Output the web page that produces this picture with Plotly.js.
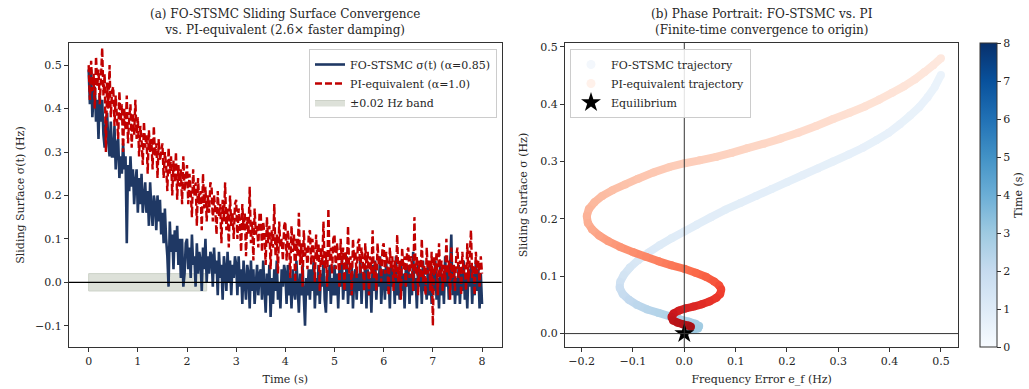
<!DOCTYPE html>
<html>
<head>
<meta charset="utf-8">
<script src="https://cdn.plot.ly/plotly-3.0.1.min.js"></script>
<style>html,body{margin:0;padding:0;background:#fff;}#chart{width:1029px;height:389px;}</style>
</head>
<body>
<div id="chart"></div>
<script>
// ---------- Panel (a): time series, sampled every 0.025 s from t = 0 to 8 s ----------
const timeStart = 0;
const timeStep = 0.025;

const sigmaFO = [
0.49,0.41,0.49,0.38,0.43,0.45,0.37,0.42,0.33,0.43,0.37,0.42,0.34,0.31,0.37,0.39,0.32,0.29,0.37,0.29,
0.29,0.36,0.26,0.32,0.33,0.24,0.29,0.25,0.32,0.26,0.29,0.09,0.27,0.21,0.29,0.22,0.26,0.18,0.23,0.26,
0.16,0.24,0.18,0.25,0.16,0.21,0.23,0.16,0.21,0.13,0.23,0.17,0.13,0.20,0.18,0.12,0.20,0.14,0.19,0.11,
0.16,0.09,0.17,0.10,0.06,-0.01,0.14,0.07,0.11,0.03,0.12,0.07,0.13,0.04,0.10,0.01,0.10,-0.01,0.02,0.09,
0.10,0.03,0.08,0.01,0.11,0.04,0.06,-0.01,0.09,0.02,0.07,0.05,-0.02,0.08,0.03,0.10,0.00,0.06,0.02,0.07,
0.06,-0.01,0.08,0.02,0.05,-0.03,0.07,0.01,0.04,-0.04,0.06,0.03,-0.02,0.07,0.00,0.05,-0.03,0.04,0.01,0.06,
0.04,-0.03,0.06,-0.01,0.03,-0.05,0.05,0.00,-0.04,0.04,0.02,-0.06,0.05,-0.02,0.03,-0.05,0.01,0.04,-0.03,0.02,
0.03,-0.04,0.05,-0.02,-0.07,0.02,-0.03,0.04,-0.08,0.01,-0.05,0.03,-0.02,0.05,-0.04,0.00,-0.06,0.03,-0.01,0.04,
0.02,-0.05,0.04,-0.03,0.01,-0.06,0.03,-0.02,-0.04,0.05,-0.01,-0.07,0.02,-0.03,0.04,-0.05,-0.10,0.01,-0.03,0.03,
-0.04,0.03,-0.02,0.05,-0.06,0.01,-0.03,0.04,-0.05,0.02,-0.01,0.05,-0.04,-0.07,0.02,-0.02,0.04,-0.05,0.01,-0.03,
0.04,-0.03,0.02,-0.06,0.03,-0.01,0.05,-0.04,0.01,-0.02,0.06,-0.05,0.02,-0.03,0.04,-0.06,0.01,0.03,-0.04,0.02,
-0.02,0.05,-0.05,0.02,-0.01,0.04,-0.06,0.03,-0.03,0.01,-0.07,0.04,-0.02,0.05,-0.04,0.02,-0.01,0.06,-0.05,0.01,
0.03,-0.04,0.05,-0.02,0.02,-0.06,0.04,-0.01,0.03,-0.05,0.06,-0.03,0.01,-0.04,0.05,-0.02,0.02,-0.06,0.03,-0.01,
0.04,-0.05,0.02,-0.03,0.07,-0.02,0.01,-0.06,0.04,-0.01,0.03,-0.05,0.05,-0.02,0.00,-0.04,0.04,-0.03,0.02,-0.05,
0.03,-0.02,0.05,-0.04,0.01,-0.06,0.04,-0.03,0.02,-0.05,0.06,-0.01,0.03,-0.04,0.02,0.11,-0.03,0.04,-0.05,0.01,
-0.03,0.04,-0.05,0.02,-0.02,0.05,-0.04,0.01,-0.06,0.03,-0.01,0.04,-0.05,0.02,-0.03,0.05,-0.02,0.03,-0.06,0.02,
-0.05];

const sigmaPI = [
0.50,0.42,0.51,0.44,0.48,0.40,0.52,0.45,0.49,0.41,0.47,0.54,0.43,0.48,0.30,0.46,0.40,0.50,0.38,0.44,
0.45,0.36,0.43,0.39,0.33,0.44,0.37,0.41,0.30,0.40,0.35,0.43,0.32,0.38,0.41,0.31,0.39,0.34,0.42,0.33,
0.38,0.29,0.36,0.33,0.27,0.37,0.31,0.34,0.25,0.35,0.30,0.33,0.26,0.36,0.29,0.32,0.24,0.33,0.28,0.30,
0.32,0.24,0.30,0.27,0.21,0.31,0.25,0.29,0.20,0.28,0.23,0.30,0.19,0.27,0.22,0.26,0.18,0.29,0.21,0.24,
0.27,0.18,0.25,0.21,0.15,0.26,0.20,0.23,0.13,0.24,0.18,0.21,0.12,0.25,0.17,0.22,0.14,0.20,0.16,0.23,
0.22,0.14,0.20,0.17,0.11,0.21,0.15,0.18,0.09,0.19,0.14,0.23,0.12,0.17,0.08,0.20,0.13,0.16,0.10,0.18,
0.19,0.10,0.17,0.14,0.07,0.18,0.12,0.16,0.06,0.15,0.11,0.22,0.09,0.14,0.05,0.17,0.11,0.13,0.08,0.16,
0.16,0.07,0.14,0.11,0.04,0.15,0.09,0.13,0.03,0.12,0.08,0.18,0.06,0.11,0.02,0.14,0.08,0.10,0.05,0.13,
0.14,0.05,0.12,0.09,0.01,0.13,0.07,0.11,0.00,0.10,0.06,0.16,0.04,0.09,-0.01,0.12,0.06,0.08,0.03,0.11,
0.12,0.04,0.10,0.07,0.00,0.11,0.05,0.09,-0.02,0.08,0.04,0.14,0.03,0.07,-0.01,0.17,0.05,0.08,0.02,0.10,
0.11,0.03,0.09,0.06,-0.01,0.10,0.04,0.08,-0.02,0.07,0.03,0.13,0.02,0.06,-0.03,0.10,0.05,0.07,0.01,0.09,
0.10,0.02,0.08,0.05,-0.02,0.09,0.03,0.07,-0.03,0.06,0.02,0.12,0.01,0.05,-0.02,0.09,0.04,0.06,0.00,0.08,
0.09,0.02,0.07,0.04,-0.03,0.08,0.03,0.06,-0.02,0.05,0.01,0.11,0.00,0.05,-0.04,0.08,0.03,0.06,-0.01,0.07,
0.08,0.01,0.06,0.04,-0.02,0.15,0.02,0.06,-0.03,0.05,0.01,0.10,0.00,0.04,-0.03,0.08,0.02,0.05,-0.02,0.07,
-0.10,0.06,0.02,0.07,-0.03,0.09,0.01,0.05,-0.02,0.04,0.00,0.10,0.02,0.05,-0.04,0.08,0.01,0.04,-0.02,0.06,
0.08,0.01,0.05,-0.03,0.07,0.02,0.04,-0.02,0.09,0.00,0.05,0.12,0.01,0.04,-0.03,0.07,0.02,0.05,-0.01,0.06,
0.02];

const bandTime = [0, 2.4];
const bandLimits = [-0.02, 0.02];

const xTicksA = [0,1,2,3,4,5,6,7,8];
const yTicksA = [-0.1,0,0.1,0.2,0.3,0.4,0.5];

// ---------- Panel (b): phase portrait ----------
const foE = [0.500,0.488,0.474,0.458,0.440,0.420,0.398,0.374,0.348,0.320,
0.290,0.260,0.230,0.200,0.170,0.140,0.110,0.080,0.052,0.025,
0.000,-0.025,-0.048,-0.070,-0.090,-0.106,-0.118,-0.125,-0.126,-0.120,
-0.108,-0.092,-0.072,-0.050,-0.028,-0.010,0.008,0.022,0.029,0.027,
0.018,0.008];
const foSigma = [0.451,0.430,0.412,0.395,0.380,0.365,0.350,0.337,0.324,0.312,
0.300,0.288,0.276,0.264,0.252,0.240,0.228,0.216,0.203,0.190,
0.178,0.166,0.154,0.141,0.128,0.115,0.102,0.090,0.080,0.069,
0.059,0.050,0.042,0.036,0.030,0.025,0.021,0.017,0.013,0.009,
0.007,0.006];
const foTime = [0.50,0.52,0.54,0.56,0.58,0.60,0.62,0.64,0.66,0.68,
0.70,0.72,0.74,0.76,0.78,0.80,0.82,0.84,0.86,0.88,
0.90,0.96,1.02,1.10,1.20,1.32,1.46,1.62,1.80,1.96,
2.10,2.22,2.34,2.44,2.54,2.64,2.72,2.80,2.88,2.94,
3.00,3.05];

const piE = [0.500,0.485,0.468,0.449,0.428,0.405,0.380,0.352,0.322,0.290,
0.257,0.222,0.188,0.155,0.122,0.092,0.062,0.030,0.001,-0.030,
-0.060,-0.090,-0.115,-0.140,-0.160,-0.175,-0.186,-0.190,-0.188,-0.180,
-0.166,-0.148,-0.125,-0.100,-0.075,-0.050,-0.025,0.000,0.022,0.042,
0.058,0.068,0.072,0.070,0.062,0.049,0.034,0.018,0.003,-0.011,
-0.021,-0.025,-0.022,-0.013,-0.002,0.008,0.013];
const piSigma = [0.480,0.468,0.456,0.443,0.431,0.420,0.408,0.396,0.385,0.374,
0.362,0.350,0.340,0.331,0.323,0.315,0.308,0.302,0.297,0.290,
0.281,0.270,0.260,0.250,0.240,0.229,0.217,0.205,0.193,0.182,
0.171,0.161,0.151,0.142,0.134,0.126,0.119,0.113,0.106,0.099,
0.091,0.084,0.077,0.069,0.062,0.056,0.051,0.047,0.044,0.040,
0.035,0.029,0.023,0.019,0.016,0.014,0.012];
const piTime = [0.60,0.65,0.70,0.75,0.80,0.85,0.90,0.95,1.00,1.05,
1.10,1.15,1.20,1.25,1.30,1.35,1.40,1.45,1.50,1.58,
1.66,1.74,1.82,1.90,1.98,2.06,2.14,2.22,2.32,2.44,
2.58,2.74,2.92,3.10,3.28,3.46,3.64,3.82,4.02,4.22,
4.42,4.62,4.82,4.98,5.14,5.28,5.42,5.56,5.70,5.86,
6.02,6.18,6.34,6.50,6.66,6.82,6.96];

const equilibrium = {e: [0], sigma: [0]};
const colorbarTicks = [0,1,2,3,4,5,6,7,8];

// ---------- styling ----------
const BLUES = [[0,'#f7fbff'],[0.125,'#deebf7'],[0.25,'#c6dbef'],[0.375,'#9ecae1'],[0.5,'#6baed6'],[0.625,'#4292c6'],[0.75,'#2171b5'],[0.875,'#08519c'],[1,'#08306b']];
const REDS = [[0,'#fff5f0'],[0.125,'#fee0d2'],[0.25,'#fcbba1'],[0.375,'#fc9272'],[0.5,'#fb6a4a'],[0.625,'#ef3b2c'],[0.75,'#cb181d'],[0.875,'#a50f15'],[1,'#67000d']];
const CMIN = 0, CMAX = 8;

function hexRgb(h){return [parseInt(h.substr(1,2),16),parseInt(h.substr(3,2),16),parseInt(h.substr(5,2),16)];}
function scaleColor(scale, v){
  let f = (v-CMIN)/(CMAX-CMIN); f = Math.max(0,Math.min(1,f));
  for (let i=0;i<scale.length-1;i++){
    const a=scale[i], b=scale[i+1];
    if (f>=a[0] && f<=b[0]){
      const u=(f-a[0])/(b[0]-a[0]); const ca=hexRgb(a[1]), cb=hexRgb(b[1]);
      return 'rgb('+ca.map((c,k)=>Math.round(c+(cb[k]-c)*u)).join(',')+')';
    }
  }
  return scale[scale.length-1][1];
}

const W=1029, H=389;
const FONT = 'DejaVu Serif, serif';
const TXT = '#262626';
const AX = '#333333';
const yDom = [(H-347)/H, (H-43)/H];

const traces = [];
traces.push({type:'scatter', x:[bandTime[0],bandTime[1],bandTime[1],bandTime[0],bandTime[0]],
  y:[bandLimits[0],bandLimits[0],bandLimits[1],bandLimits[1],bandLimits[0]],
  mode:'lines', fill:'toself', fillcolor:'rgb(221,225,217)', line:{color:'rgb(205,210,200)', width:1},
  name:'±0.02 Hz band', legend:'legend', legendrank:3, hoverinfo:'skip', xaxis:'x', yaxis:'y'});
traces.push({type:'scatter', x0:timeStart, dx:timeStep, y:sigmaFO, mode:'lines',
  line:{color:'#1f3864', width:2.6}, name:'FO-STSMC σ(t) (α=0.85)', legend:'legend', legendrank:1,
  xaxis:'x', yaxis:'y', hoverinfo:'skip'});
traces.push({type:'scatter', x0:timeStart, dx:timeStep, y:sigmaPI, mode:'lines',
  line:{color:'#c00000', width:2.4, dash:'7px,3px'}, name:'PI-equivalent (α=1.0)', legend:'legend', legendrank:2,
  xaxis:'x', yaxis:'y', hoverinfo:'skip'});

for (let i=0;i<foE.length-1;i++){
  traces.push({type:'scatter', x:[foE[i],foE[i+1]], y:[foSigma[i],foSigma[i+1]], mode:'lines',
    line:{color:scaleColor(BLUES,(foTime[i]+foTime[i+1])/2), width:8}, showlegend:false, hoverinfo:'skip', xaxis:'x2', yaxis:'y2'});
}
traces.push({type:'scatter', x:foE, y:foSigma, mode:'markers', showlegend:false, hoverinfo:'skip', xaxis:'x2', yaxis:'y2',
  marker:{size:8, color:foTime, colorscale:BLUES, cmin:CMIN, cmax:CMAX, showscale:true,
    colorbar:{x:980/W, xanchor:'left', xpad:0, ypad:0, y:(H-347)/H, yanchor:'bottom', len:(347-43)/H, lenmode:'fraction',
      thickness:17, thicknessmode:'pixels', outlinewidth:1, outlinecolor:AX,
      tickvals:colorbarTicks, ticks:'outside', ticklen:4, tickcolor:AX, tickfont:{family:FONT,size:11,color:TXT},
      title:{text:'Time (s)', side:'right', font:{family:FONT,size:11,color:TXT}}}}});
for (let i=0;i<piE.length-1;i++){
  traces.push({type:'scatter', x:[piE[i],piE[i+1]], y:[piSigma[i],piSigma[i+1]], mode:'lines',
    line:{color:scaleColor(REDS,(piTime[i]+piTime[i+1])/2), width:8}, showlegend:false, hoverinfo:'skip', xaxis:'x2', yaxis:'y2'});
}
traces.push({type:'scatter', x:piE, y:piSigma, mode:'markers', showlegend:false, hoverinfo:'skip', xaxis:'x2', yaxis:'y2',
  marker:{size:8, color:piTime, colorscale:REDS, cmin:CMIN, cmax:CMAX, showscale:false}});
traces.push({type:'scatter', x:[null], y:[null], mode:'markers', marker:{size:9, color:'rgb(243,247,252)'},
  name:'FO-STSMC trajectory', legend:'legend2', xaxis:'x2', yaxis:'y2', hoverinfo:'skip'});
traces.push({type:'scatter', x:[null], y:[null], mode:'markers', marker:{size:9, color:'rgb(255,241,234)'},
  name:'PI-equivalent trajectory', legend:'legend2', xaxis:'x2', yaxis:'y2', hoverinfo:'skip'});
traces.push({type:'scatter', x:equilibrium.e, y:equilibrium.sigma, mode:'markers',
  marker:{symbol:'star', size:15, color:'#000'}, name:'Equilibrium', legend:'legend2', xaxis:'x2', yaxis:'y2', hoverinfo:'skip'});

const axBase = {showgrid:false, zeroline:false, showline:true, mirror:true, linecolor:AX, linewidth:1,
  ticks:'outside', ticklen:4, tickcolor:AX, tickfont:{family:FONT,size:11,color:TXT}, automargin:false};

const legBase = {bgcolor:'rgba(255,255,255,0.85)', bordercolor:'#cccccc', borderwidth:1,
  font:{family:FONT,size:11,color:TXT}, tracegroupgap:0, itemwidth:30, yanchor:'top'};

const layout = {
  width:W, height:H, margin:{l:0,r:0,t:0,b:0},
  paper_bgcolor:'#fff', plot_bgcolor:'#fff',
  font:{family:FONT, size:11, color:TXT},
  hovermode:false,
  xaxis:Object.assign({}, axBase, {domain:[69/W, 501.7/W], range:[-0.4,8.4], tickvals:xTicksA, anchor:'y',
    title:{text:'Time (s)', font:{family:FONT,size:11,color:TXT}, standoff:8}}),
  yaxis:Object.assign({}, axBase, {domain:yDom, range:[-0.149,0.551], tickvals:yTicksA, tickformat:'.1f', anchor:'x',
    title:{text:'Sliding Surface σ(t) (Hz)', font:{family:FONT,size:11,color:TXT}, standoff:8}}),
  xaxis2:Object.assign({}, axBase, {domain:[565/W, 958.3/W], range:[-0.2324,0.5338], dtick:0.1, tick0:0, tickformat:'.1f', anchor:'y2',
    title:{text:'Frequency Error e_f (Hz)', font:{family:FONT,size:11,color:TXT}, standoff:8}}),
  yaxis2:Object.assign({}, axBase, {domain:yDom, range:[-0.0234,0.5066], dtick:0.1, tick0:0, tickformat:'.1f', anchor:'x2',
    title:{text:'Sliding Surface σ (Hz)', font:{family:FONT,size:11,color:TXT}, standoff:10}}),
  legend:Object.assign({}, legBase, {x:497/W, xanchor:'right', y:1-49/H}),
  legend2:Object.assign({}, legBase, {x:570/W, xanchor:'left', y:1-49/H, itemwidth:30}),
  shapes:[
    {type:'line', xref:'x domain', x0:0, x1:1, yref:'y', y0:0, y1:0, line:{color:'#000', width:1.2}, layer:'above'},
    {type:'line', xref:'x2 domain', x0:0, x1:1, yref:'y2', y0:0, y1:0, line:{color:AX, width:1}, layer:'above'},
    {type:'line', xref:'x2', x0:0, x1:0, yref:'y2 domain', y0:0, y1:1, line:{color:AX, width:1}, layer:'above'}
  ],
  annotations:[
    {text:'(a) FO-STSMC Sliding Surface Convergence<br>vs. PI-equivalent (2.6× faster damping)', xref:'paper', yref:'paper',
     x:285/W, y:yDom[1], xanchor:'center', yanchor:'bottom', yshift:4, showarrow:false, font:{family:FONT,size:12,color:TXT}},
    {text:'(b) Phase Portrait: FO-STSMC vs. PI<br>(Finite-time convergence to origin)', xref:'paper', yref:'paper',
     x:761.6/W, y:yDom[1], xanchor:'center', yanchor:'bottom', yshift:4, showarrow:false, font:{family:FONT,size:12,color:TXT}}
  ]
};

Plotly.newPlot('chart', traces, layout, {displayModeBar:false, staticPlot:true});
</script>
</body>
</html>
